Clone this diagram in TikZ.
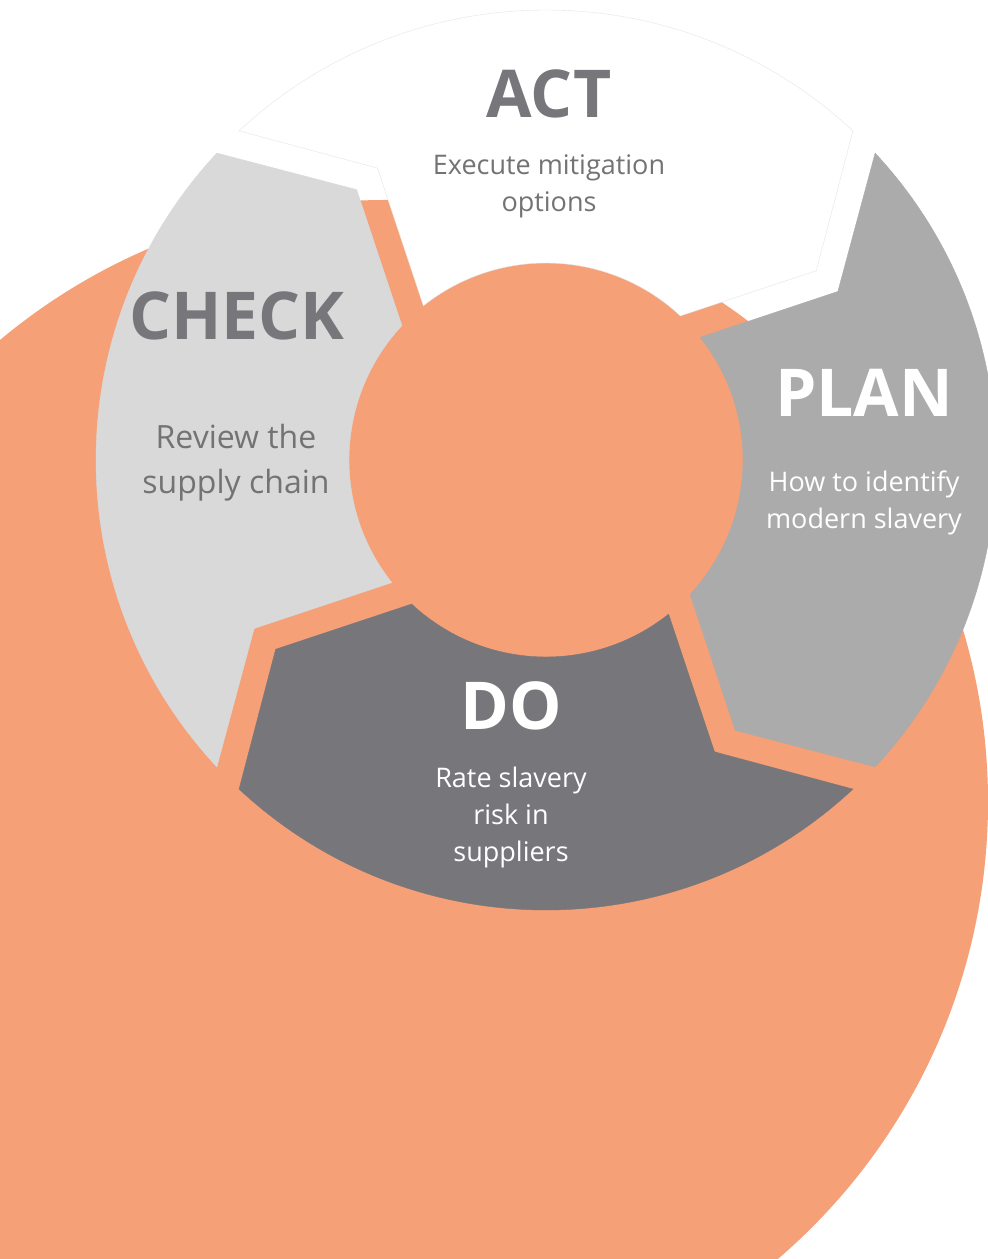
\documentclass[tikz,border=0pt]{standalone}
\usepackage{fontspec}
\setmainfont{Open Sans}
\definecolor{salmon}{HTML}{F5A077}
\definecolor{plangray}{HTML}{ABABAB}
\definecolor{dogray}{HTML}{77767B}
\definecolor{checkgray}{HTML}{D9D9D9}
\definecolor{subgray}{HTML}{737373}
\tikzset{
  head/.style={font=\fontsize{66}{70}\selectfont\bfseries, inner sep=0pt},
  sub/.style={font=\fontsize{27}{37}\selectfont, align=center, inner sep=0pt},
}
\begin{document}
\begin{tikzpicture}[x=1pt,y=1pt]
    \useasboundingbox (0,0) rectangle (988,1259);
    \clip (0,0) rectangle (988,1259);
    \fill [salmon] (386,457) circle [radius=602pt];

    % the four arrows of the cycle, clockwise
    \begin{scope}[shift={(546,799)}]
        \foreach \a/\col/\edge in {133/white/black!10, 43/plangray/plangray, -47/dogray/dogray, -137/checkgray/checkgray}
            \filldraw [fill=\col, draw=\edge, line width=0.4pt] (\a:450) arc [start angle=\a, end angle=\a-86, radius=450pt]
                -- (\a-98:330) -- (\a-86:197) arc [start angle=\a-86, end angle=\a-4.5, radius=197pt]
                -- (\a-13:337) -- cycle;
    \end{scope}

    \node (act) [head, text=dogray] at (549,1165) {ACT};
    \node (actsub) [sub, text=subgray] at (549,1073) {Execute mitigation\\options};
    \node (plan) [head, text=white] at (864,866) {PLAN};
    \node (plansub) [sub, text=white] at (864,756) {How to identify\\modern slavery};
    \node (do) [head, text=white] at (511,553) {DO};
    \node (dosub) [sub, text=white] at (511,442) {Rate slavery\\risk in\\suppliers};
    \node (check) [head, text=dogray] at (237,943) {CHECK};
    \node (checksub) [sub, text=subgray, font=\fontsize{32}{45}\selectfont] at (236,796) {Review the\\supply chain};
\end{tikzpicture}
\end{document}
